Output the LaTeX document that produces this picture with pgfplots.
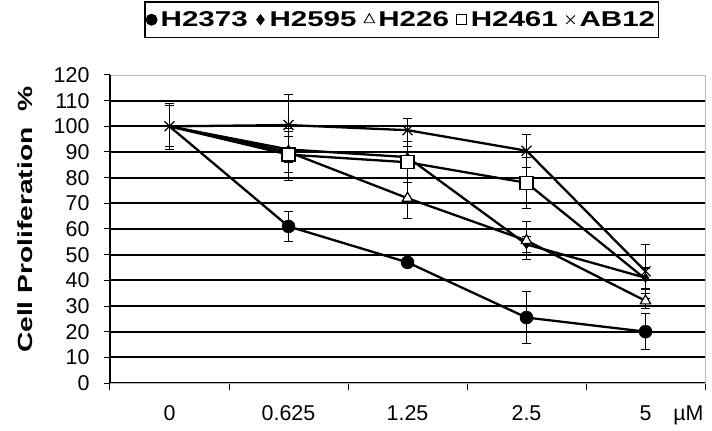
\documentclass[border=0pt]{standalone}
\usepackage{fontspec}
\setmainfont{Liberation Sans}
\newfontfamily\wideb{Liberation Sans}[FakeStretch=1.38]
\usepackage{pgfplots}
\pgfplotsset{compat=1.18}
\usepackage{pgfplotstable}

% x index: 0=0, 1=0.625, 2=1.25, 3=2.5, 4=5 uM
\pgfplotstableread{
x y e
0 100 8
1 61 6
2 47 1.5
3 25.5 10
4 20 7
}\hTwoThreeSevenThree
\pgfplotstableread{
x y e
0 100 8
1 91 5
2 88 4
3 54 3
4 41 4
}\hTwoFiveNineFive
\pgfplotstableread{
x y e
0 100 8
1 90 8
2 72 8
3 55.5 7.5
4 32 3
}\hTwoTwoSix
\pgfplotstableread{
x y e
0 100 8
1 89 10
2 86 8
3 78 10
4 40.5 4
}\hTwoFourSixOne
\pgfplotstableread{
x y e
0 100 9
1 100.5 12
2 98.5 4.5
3 90.5 6.5
4 43.5 10.5
}\ABtwelve

\begin{document}
\begin{tikzpicture}
\begin{axis}[
  scale only axis, width=595bp, height=308bp,
  clip=false,
  xmin=-0.5, xmax=4.5, ymin=0, ymax=120,
  font=\fontsize{21.5}{23}\selectfont,
  /pgf/number format/assume math mode=true,
  xtick={0,...,4}, xticklabels={0,0.625,1.25,2.5,5},
  major x tick style={draw=none},
  minor xtick={-0.5,0.5,...,4.5},
  minor x tick style={black, line width=1bp},
  minor tick length=7bp,
  xtick pos=bottom, ytick pos=left,
  ytick={0,10,...,110},
  extra y ticks={120},
  extra y tick style={grid=none},
  major tick length=6bp,
  tick align=outside,
  ytick style={black, line width=1bp},
  ymajorgrids,
  grid style={black, line width=1.8bp},
  axis line style={draw=gray!55, line width=0.7bp},
  xticklabel style={yshift=-13bp},
  yticklabel style={xshift=-11bp},
  ylabel={\wideb\bfseries Cell Proliferation\ \ \%},
  ylabel style={at={(rel axis cs:-0.142,0.53)}, anchor=center, font=\fontsize{20.5}{22}\selectfont},
  legend columns=5,
  legend style={at={(0.49,1.12)}, anchor=south, draw=black, line width=1.2bp,
    font=\wideb\bfseries\fontsize{21.5}{23}\selectfont, inner xsep=1bp, inner ysep=7.5bp,
    /tikz/every even column/.append style={column sep=5bp},
    /tikz/every odd column/.append style={column sep=0bp}},
  legend image code/.code={\path[draw=none] (0cm,0cm) -- (0.45cm,0cm);
    \draw[#1, line width=0.9bp] plot coordinates {(0.2cm,0cm)};},
  error bars/error bar style={black, line width=1bp},
  error bars/error mark options={rotate=90, mark size=4.5bp, line width=1bp, black},
]
\addlegendimage{only marks, black, mark=*, mark size=5.5bp, mark options={fill=black}}
\addlegendentry{H2373}
\addlegendimage{only marks, black, mark=diamond*, mark size=5bp, mark options={fill=black}}
\addlegendentry{H2595}
\addlegendimage{only marks, black, mark=triangle*, mark size=6bp, mark options={fill=white}}
\addlegendentry{H226}
\addlegendimage{only marks, black, mark=square*, mark size=5bp, mark options={fill=white}}
\addlegendentry{H2461}
\addlegendimage{only marks, black, mark=x, mark size=6bp}
\addlegendentry{AB12}

\addplot[forget plot, black, line width=2.3bp, mark=*, mark size=6.5bp, mark indices={2,3,4,5},
  mark options={solid, fill=black, line width=0.5bp},
  error bars/.cd, y dir=both, y explicit]
  table[x=x, y=y, y error=e] {\hTwoThreeSevenThree};
\addplot[forget plot, black, line width=2.3bp, mark=diamond*, mark size=4.5bp, mark indices={2,3,4,5},
  mark options={solid, fill=black, line width=0.5bp},
  error bars/.cd, y dir=both, y explicit]
  table[x=x, y=y, y error=e] {\hTwoFiveNineFive};
\addplot[forget plot, black, line width=2.3bp, mark=triangle*, mark size=6bp, mark indices={2,3,4,5},
  mark options={solid, fill=white, line width=1.2bp},
  error bars/.cd, y dir=both, y explicit]
  table[x=x, y=y, y error=e] {\hTwoTwoSix};
\addplot[forget plot, black, line width=2.3bp, mark=square*, mark size=6.5bp, mark indices={2,3,4},
  mark options={solid, fill=white, line width=1.2bp},
  error bars/.cd, y dir=both, y explicit]
  table[x=x, y=y, y error=e] {\hTwoFourSixOne};
\addplot[forget plot, black, line width=2.3bp, mark=x, mark size=7bp, mark options={solid, line width=1.2bp},
  error bars/.cd, y dir=both, y explicit]
  table[x=x, y=y, y error=e] {\ABtwelve};
\draw[black, line width=1.3bp] (rel axis cs:0,0) -- (rel axis cs:0,1);
\node[anchor=base, font=\fontsize{21.5}{23}\selectfont] at ([yshift=-37bp]axis cs:4.36,0) {µM};
% page margins as in the reference
\path ([xshift=-110bp,yshift=-48bp]rel axis cs:0,0) rectangle ([xshift=7bp,yshift=75bp]rel axis cs:1,1);
\end{axis}
\end{tikzpicture}
\end{document}
